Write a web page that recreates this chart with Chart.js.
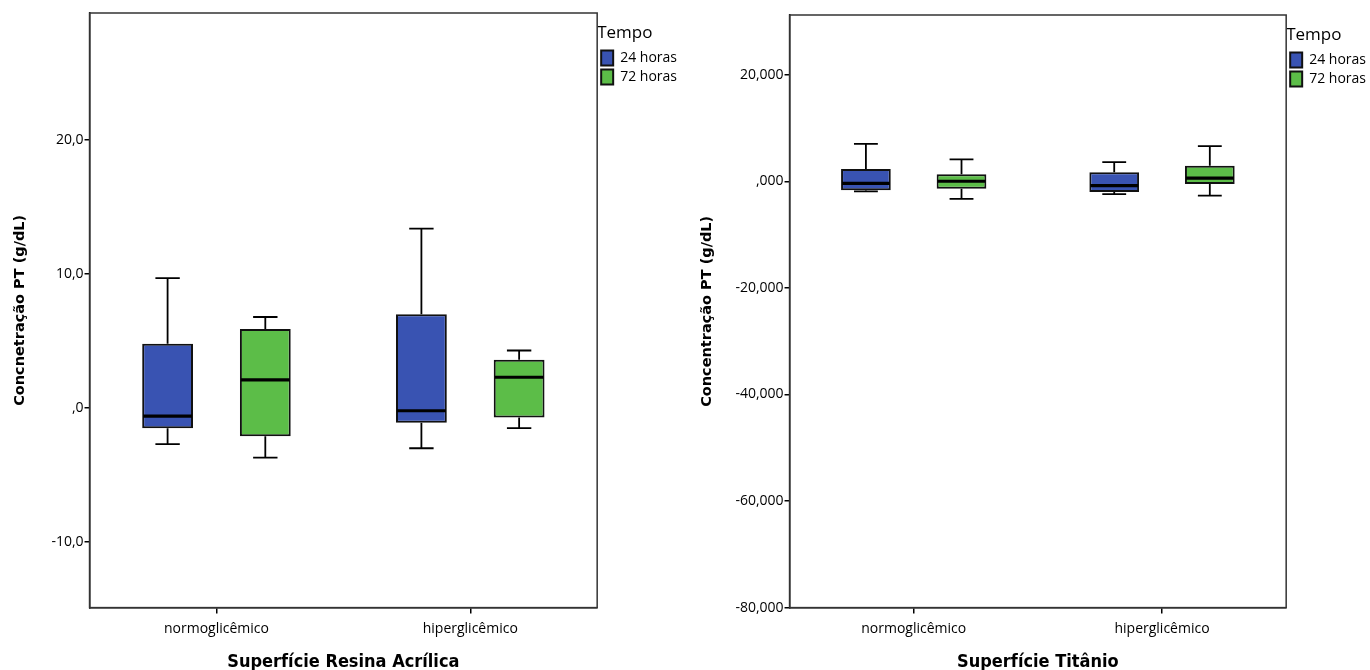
<!DOCTYPE html>
<html>
<head>
<meta charset="utf-8">
<script src="https://cdn.jsdelivr.net/npm/chart.js@4.4.1/dist/chart.umd.min.js"></script>
<style>
  body { margin: 0; background: #fff; width: 1370px; height: 670px; overflow: hidden; position: relative; }
  .painel { position: absolute; top: 0; height: 670px; }
  #painelResina { left: 0; width: 690px; }
  #painelTitanio { left: 699px; width: 677px; }
</style>
</head>
<body>
<div class="painel" id="painelResina"><canvas id="graficoResina"></canvas></div>
<div class="painel" id="painelTitanio"><canvas id="graficoTitanio"></canvas></div>
<script>
// categorias e séries
const categorias = ['normoglicêmico', 'hiperglicêmico'];
const series = ['24 horas', '72 horas'];

// cada caixa: [mínimo, Q1, mediana, Q3, máximo]
const resina24h = [[-2.7, -1.5, -0.6, 4.8, 9.7], [-3.0, -1.1, -0.2, 7.0, 13.4]];
const resina72h = [[-3.7, -2.1, 2.1, 5.9, 6.8], [-1.5, -0.7, 2.3, 3.6, 4.3]];
const titanio24h = [[-1.9, -1.7, -0.4, 2.3, 7.0], [-2.4, -2.0, -0.8, 1.7, 3.6]];
const titanio72h = [[-3.3, -1.4, 0.0, 1.3, 4.1], [-2.7, -0.5, 0.6, 2.9, 6.6]];

// marcas do eixo y
const ticksResina = [-10, 0, 10, 20];
const ticksTitanio = [-80, -60, -40, -20, 0, 20];

const corAzul = '#3953b2';
const corVerde = '#5cbd48';

// formato do SPSS: sem zero à esquerda, vírgula decimal
function formatar(valor, casas) {
  let txt = Math.abs(valor).toFixed(casas).replace('.', ',');
  if (txt.startsWith('0,')) txt = txt.substring(1);
  return (valor < 0 ? '-' : '') + txt;
}

// desenha bigodes e mediana em cima das barras flutuantes (Q1..Q3)
const pluginBoxplot = {
  id: 'boxplot',
  afterDatasetsDraw(chart) {
    const ctx = chart.ctx;
    const y = chart.scales.y;
    chart.data.datasets.forEach((ds, i) => {
      const meta = chart.getDatasetMeta(i);
      meta.data.forEach((barra, j) => {
        const [min, q1, med, q3, max] = ds.caixas[j];
        const x = barra.x;
        const w = barra.width;
        const cap = w * 0.24;
        ctx.save();
        ctx.strokeStyle = '#000';
        ctx.lineWidth = 1.8;
        ctx.beginPath();
        ctx.moveTo(x, y.getPixelForValue(q3));
        ctx.lineTo(x, y.getPixelForValue(max));
        ctx.moveTo(x - cap, y.getPixelForValue(max));
        ctx.lineTo(x + cap, y.getPixelForValue(max));
        ctx.moveTo(x, y.getPixelForValue(q1));
        ctx.lineTo(x, y.getPixelForValue(min));
        ctx.moveTo(x - cap, y.getPixelForValue(min));
        ctx.lineTo(x + cap, y.getPixelForValue(min));
        ctx.stroke();
        ctx.lineWidth = 3.2;
        ctx.beginPath();
        ctx.moveTo(x - w / 2 + 1, y.getPixelForValue(med));
        ctx.lineTo(x + w / 2 - 1, y.getPixelForValue(med));
        ctx.stroke();
        ctx.restore();
      });
    });
  }
};

// moldura em volta da área do gráfico
const pluginMoldura = {
  id: 'moldura',
  afterDraw(chart) {
    const a = chart.chartArea;
    const ctx = chart.ctx;
    ctx.save();
    ctx.strokeStyle = '#333';
    ctx.lineWidth = 1.5;
    ctx.strokeRect(a.left, a.top, a.right - a.left, a.bottom - a.top);
    ctx.restore();
  }
};

const fonteTicks = { family: '"Open Sans", sans-serif', size: 14 };

function criarGrafico(id, dados24, dados72, cfg) {
  const ctx = document.getElementById(id).getContext('2d');
  return new Chart(ctx, {
    type: 'bar',
    data: {
      labels: categorias,
      datasets: [
        {
          label: series[0],
          data: dados24.map(c => [c[1], c[3]]),
          caixas: dados24,
          backgroundColor: corAzul,
          borderColor: '#111',
          borderWidth: 2,
          borderSkipped: false
        },
        {
          label: series[1],
          data: dados72.map(c => [c[1], c[3]]),
          caixas: dados72,
          backgroundColor: corVerde,
          borderColor: '#111',
          borderWidth: 2,
          borderSkipped: false
        }
      ]
    },
    options: {
      responsive: true,
      maintainAspectRatio: false,
      animation: false,
      devicePixelRatio: 1,
      categoryPercentage: 0.77,
      barPercentage: 0.52,
      layout: { padding: cfg.padding },
      plugins: {
        tooltip: { enabled: false },
        legend: {
          position: 'right',
          align: 'start',
          title: {
            display: true,
            text: 'Tempo',
            position: 'start',
            color: '#000',
            font: { family: '"Open Sans", sans-serif', size: 17 },
            padding: { top: 12, bottom: 1 }
          },
          labels: {
            boxWidth: 12,
            boxHeight: 15,
            padding: 4,
            color: '#000',
            font: { family: '"Open Sans", sans-serif', size: 14 }
          }
        }
      },
      scales: {
        x: {
          offset: true,
          grid: { display: true, offset: false, drawOnChartArea: false, drawTicks: true, tickLength: 6, color: '#000', lineWidth: 1.5 },
          border: { display: true, color: '#000', width: 1.5 },
          ticks: { color: '#000', font: fonteTicks, padding: 7 },
          title: {
            display: true,
            text: cfg.tituloX,
            color: '#000',
            font: { family: '"DejaVu Sans Condensed", "DejaVu Sans", sans-serif', size: 18, weight: 'bold' },
            padding: { top: 7, bottom: 0 }
          }
        },
        y: {
          min: cfg.min,
          max: cfg.max,
          afterBuildTicks: axis => { axis.ticks = cfg.ticks.map(v => ({ value: v })); },
          grid: { display: true, drawOnChartArea: false, drawTicks: true, tickLength: 5, color: '#000', lineWidth: 1.5 },
          border: { display: true, color: '#000', width: 1.5 },
          ticks: {
            color: '#000',
            font: fonteTicks,
            padding: 1,
            callback: v => formatar(v, cfg.casas)
          },
          title: {
            display: true,
            text: cfg.tituloY,
            color: '#000',
            font: { family: '"DejaVu Sans", sans-serif', size: 14.5, weight: 'bold' },
            padding: { top: 0, bottom: cfg.folgaTitulo }
          }
        }
      }
    },
    plugins: [pluginBoxplot, pluginMoldura]
  });
}

criarGrafico('graficoResina', resina24h, resina72h, {
  min: -14.9, max: 29.5, ticks: ticksResina, casas: 1,
  tituloX: 'Superfície Resina Acrílica',
  tituloY: 'Concnetração PT (g/dL)',
  folgaTitulo: 21,
  padding: { left: 12, top: 13, right: 3, bottom: -3 }
});

criarGrafico('graficoTitanio', titanio24h, titanio72h, {
  min: -80, max: 31.2, ticks: ticksTitanio, casas: 3,
  tituloX: 'Superfície Titânio',
  tituloY: 'Concentração PT (g/dL)',
  folgaTitulo: 18,
  padding: { left: 0, top: 15, right: 0, bottom: -3 }
});
</script>
</body>
</html>
